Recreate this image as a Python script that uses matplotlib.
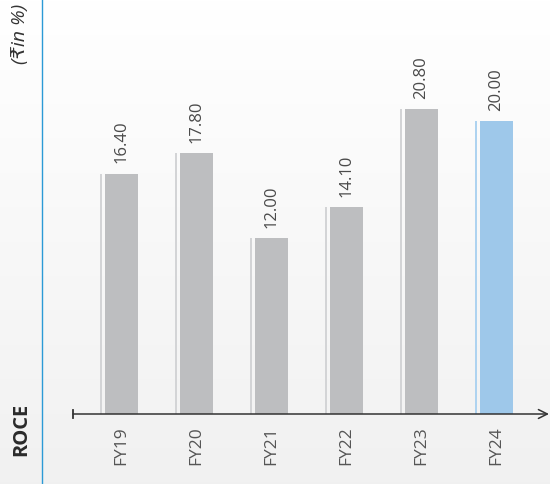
import matplotlib
import numpy as np
import matplotlib.pyplot as plt

matplotlib.use('Agg')
plt.rcParams['font.family'] = ['Open Sans', 'DejaVu Sans']

# data
years  = ['FY19', 'FY20', 'FY21', 'FY22', 'FY23', 'FY24']
roce   = [16.40, 17.80, 12.00, 14.10, 20.80, 20.00]
colors = ['#bdbec0'] * 5 + ['#9ec8ea']
strips = ['#d3d4d6'] * 5 + ['#aed3f0']

W, H = 550, 484
fig = plt.figure(figsize=(W / 100, H / 100), dpi=100)

# background gradient
bg = fig.add_axes([0, 0, 1, 1])
grad = np.linspace(1.0, 0.945, 256).reshape(-1, 1)
bg.imshow(np.dstack([grad, grad, grad]), aspect='auto', extent=[0, 1, 0, 1])
bg.set_xlim(0, 1)
bg.set_ylim(0, 1)
bg.axis('off')

# blue vertical divider
bg.plot([41.5 / W, 41.5 / W], [0, 1], color='#2b9ad6', lw=1.0)

# left side texts
bg.text(21 / W, 1 - 456 / H, 'ROCE', rotation=90, ha='center', va='bottom',
        fontsize=14.5, fontweight='bold', color='#2a2a2a')
bg.text(20 / W, 1 - 4 / H, '(₹in %)', rotation=90, ha='center', va='top',
        fontsize=14, style='italic', color='#333333')

# chart axes: left edge at x=73, baseline at y=414
px_per_unit = 14.65
x0, x_end, y_base = 73, 549, 414
ax = fig.add_axes([x0 / W, 1 - y_base / H, (x_end - x0) / W, y_base / H])
ax.patch.set_alpha(0)
step = 75.0
ax.set_xlim((x0 - 121.5) / step, (x_end - 121.5) / step)
ax.set_ylim(0, y_base / px_per_unit)
ax.axis('off')

x = np.arange(len(years))
bar_w = 33 / step
ax.bar(x, roce, width=bar_w, color=colors, zorder=2)
ax.bar(x - 20.5 / step, roce, width=2 / step, color=strips, zorder=2)

for xi, v, lab in zip(x, roce, years):
    ax.annotate(f'{v:.2f}', (xi, v), xytext=(0, 7.5), textcoords='offset points',
                rotation=90, ha='center', va='bottom', fontsize=12, color='#4a4a4a')
    ax.annotate(lab, (xi, 0), xytext=(0, -9), textcoords='offset points',
                rotation=90, ha='center', va='top', fontsize=12.5, color='#555555')

# baseline axis with arrow
xl = ax.get_xlim()
ax.annotate('', xy=(xl[1], 0), xytext=(xl[0], 0),
            arrowprops=dict(arrowstyle='->', color='#333333', lw=1.1,
                            mutation_scale=16, shrinkA=0, shrinkB=0),
            annotation_clip=False, zorder=3)
ax.plot([xl[0], xl[0]], [-4 / px_per_unit, 4 / px_per_unit], color='#333333',
        lw=1.3, clip_on=False, zorder=3)

plt.savefig('out.png', dpi=100)
